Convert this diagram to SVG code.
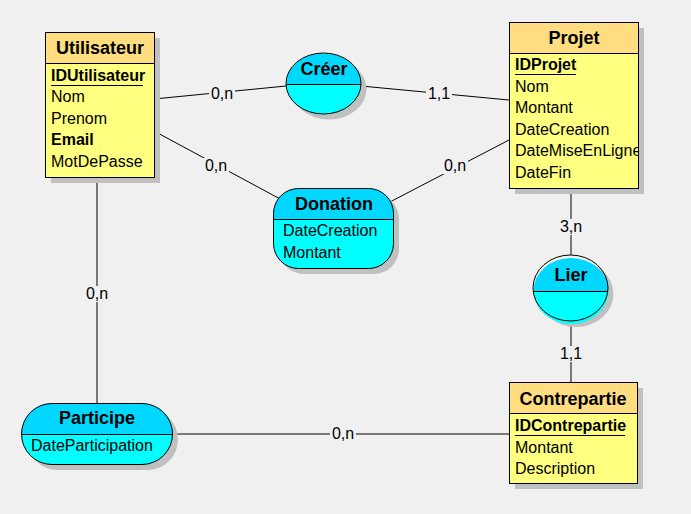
<svg xmlns="http://www.w3.org/2000/svg" width="691" height="514" viewBox="0 0 691 514">
<style>
.bg{fill:#f0f0f0}
.sh{fill:#c0c0c0}
.eh{fill:#ffdd80;stroke:#000;stroke-width:1}
.eb{fill:#ffff80;stroke:#000;stroke-width:1}
.rh{fill:#00d8ff}
.rb{fill:#00ffff}
.ol{fill:none;stroke:#000;stroke-width:1}
.t{font-family:"Liberation Sans",Arial,sans-serif;font-size:18px;font-weight:bold;fill:#000;text-anchor:middle}
.a{font-family:"Liberation Sans",Arial,sans-serif;font-size:16px;fill:#000}
.ab{font-family:"Liberation Sans",Arial,sans-serif;font-size:16px;font-weight:bold;fill:#000}
.l{font-family:"Liberation Sans",Arial,sans-serif;font-size:16px;fill:#000;text-anchor:middle}
.c{stroke:#000;stroke-width:1;fill:none}
.lb{fill:#f0f0f0}
</style>
<defs>
<clipPath id="cpP"><rect x="509" y="22" width="129" height="166"/></clipPath>
</defs>
<rect class="bg" x="0" y="0" width="691" height="514"/>
<g id="connectors">
<line class="c" x1="154" y1="99" x2="286" y2="86"/>
<line class="c" x1="361" y1="86" x2="509" y2="100"/>
<line class="c" x1="154" y1="131" x2="282" y2="200"/>
<line class="c" x1="388" y1="203" x2="509" y2="140"/>
<line class="c" x1="571" y1="188" x2="571" y2="255"/>
<line class="c" x1="571" y1="321" x2="571" y2="382"/>
<line class="c" x1="97" y1="177" x2="97" y2="403"/>
<line class="c" x1="172" y1="434" x2="509" y2="434"/>
<rect class="lb" x="209" y="86" width="26" height="16"/><text class="l" x="222" y="99">0,n</text>
<rect class="lb" x="426" y="86" width="26" height="16"/><text class="l" x="439" y="99">1,1</text>
<rect class="lb" x="203" y="158" width="26" height="16"/><text class="l" x="216" y="171">0,n</text>
<rect class="lb" x="442" y="158" width="26" height="16"/><text class="l" x="455" y="171">0,n</text>
<rect class="lb" x="558" y="219" width="26" height="16"/><text class="l" x="571" y="232">3,n</text>
<rect class="lb" x="558" y="346" width="26" height="16"/><text class="l" x="571" y="359">1,1</text>
<rect class="lb" x="84" y="286" width="26" height="16"/><text class="l" x="97" y="299">0,n</text>
<rect class="lb" x="330" y="426" width="26" height="16"/><text class="l" x="343" y="439">0,n</text>
</g>
<g id="Utilisateur">
<rect class="sh" x="51" y="38" width="109" height="145"/>
<rect class="eb" x="45.5" y="32.5" width="109" height="145"/>
<rect class="eh" x="45.5" y="32.5" width="109" height="31"/>
<text class="t" x="100" y="54">Utilisateur</text>
<text class="ab" x="51" y="81">IDUtilisateur</text>
<line class="c" x1="51" y1="85.5" x2="143" y2="85.5"/>
<text class="a" x="51" y="102">Nom</text>
<text class="a" x="51" y="124">Prenom</text>
<text class="ab" x="51" y="145">Email</text>
<text class="a" x="51" y="167">MotDePasse</text>
</g>
<g id="Projet">
<rect class="sh" x="515" y="28" width="129" height="166"/>
<rect class="eb" x="509.5" y="22.5" width="129" height="166"/>
<rect class="eh" x="509.5" y="22.5" width="129" height="31"/>
<text class="t" x="574" y="44">Projet</text>
<g clip-path="url(#cpP)">
<text class="ab" x="515" y="70">IDProjet</text>
<line class="c" x1="515" y1="74.5" x2="576" y2="74.5"/>
<text class="a" x="515" y="92">Nom</text>
<text class="a" x="515" y="113">Montant</text>
<text class="a" x="515" y="135">DateCreation</text>
<text class="a" x="515" y="156">DateMiseEnLigne</text>
<text class="a" x="515" y="178">DateFin</text>
</g>
</g>
<g id="Creer">
<ellipse class="sh" cx="329" cy="89" rx="37.5" ry="30.5"/>
<path class="rb" d="M286 84 A37.5 30.5 0 0 0 361 84 Z"/>
<path class="rh" d="M286 84 A37.5 30.5 0 0 1 361 84 Z"/>
<ellipse class="ol" cx="323.5" cy="83.5" rx="37.5" ry="30.5"/>
<line class="c" x1="286" y1="84.5" x2="361" y2="84.5"/>
<text class="t" x="324" y="75">Créer</text>
</g>
<g id="Donation">
<rect class="sh" x="279" y="194" width="120" height="80" rx="25"/>
<rect class="rb" x="273.5" y="188.5" width="120" height="80" rx="25"/>
<path class="rh" d="M273.5 219 V213.5 A25 25 0 0 1 298.5 188.5 H368.5 A25 25 0 0 1 393.5 213.5 V219 Z"/>
<rect class="ol" x="273.5" y="188.5" width="120" height="80" rx="25"/>
<line class="c" x1="273.5" y1="219.5" x2="393.5" y2="219.5"/>
<text class="t" x="334" y="210">Donation</text>
<text class="a" x="283" y="236">DateCreation</text>
<text class="a" x="283" y="258">Montant</text>
</g>
<g id="Lier">
<ellipse class="sh" cx="576" cy="294" rx="37.5" ry="33"/>
<path class="rb" d="M533 291 A37.5 33 0 0 0 608 291 Z" transform="translate(0.5,0)"/>
<path class="rh" d="M533.5 291 A37.5 33 0 0 1 608.5 291 Z"/>
<ellipse class="ol" cx="570.5" cy="288" rx="37.5" ry="33"/>
<line class="c" x1="533" y1="291.5" x2="608" y2="291.5"/>
<text class="t" x="571" y="281">Lier</text>
</g>
<g id="Contrepartie">
<rect class="sh" x="515" y="388" width="128" height="101"/>
<rect class="eb" x="509.5" y="382.5" width="128" height="101"/>
<rect class="eh" x="509.5" y="382.5" width="128" height="31"/>
<text class="t" x="573" y="405">Contrepartie</text>
<text class="ab" x="515" y="431">IDContrepartie</text>
<line class="c" x1="515" y1="435.5" x2="625" y2="435.5"/>
<text class="a" x="515" y="453">Montant</text>
<text class="a" x="515" y="474">Description</text>
</g>
<g id="Participe">
<rect class="sh" x="27" y="409" width="151" height="61" rx="30.5"/>
<rect class="rb" x="21.5" y="403.5" width="151" height="61" rx="30.5"/>
<path class="rh" d="M21.5 434 A30.5 30.5 0 0 1 52 403.5 H142 A30.5 30.5 0 0 1 172.5 434 Z"/>
<rect class="ol" x="21.5" y="403.5" width="151" height="61" rx="30.5"/>
<line class="c" x1="21.5" y1="434.5" x2="172.5" y2="434.5"/>
<text class="t" x="97" y="424">Participe</text>
<text class="a" x="31" y="451">DateParticipation</text>
</g>
</svg>
